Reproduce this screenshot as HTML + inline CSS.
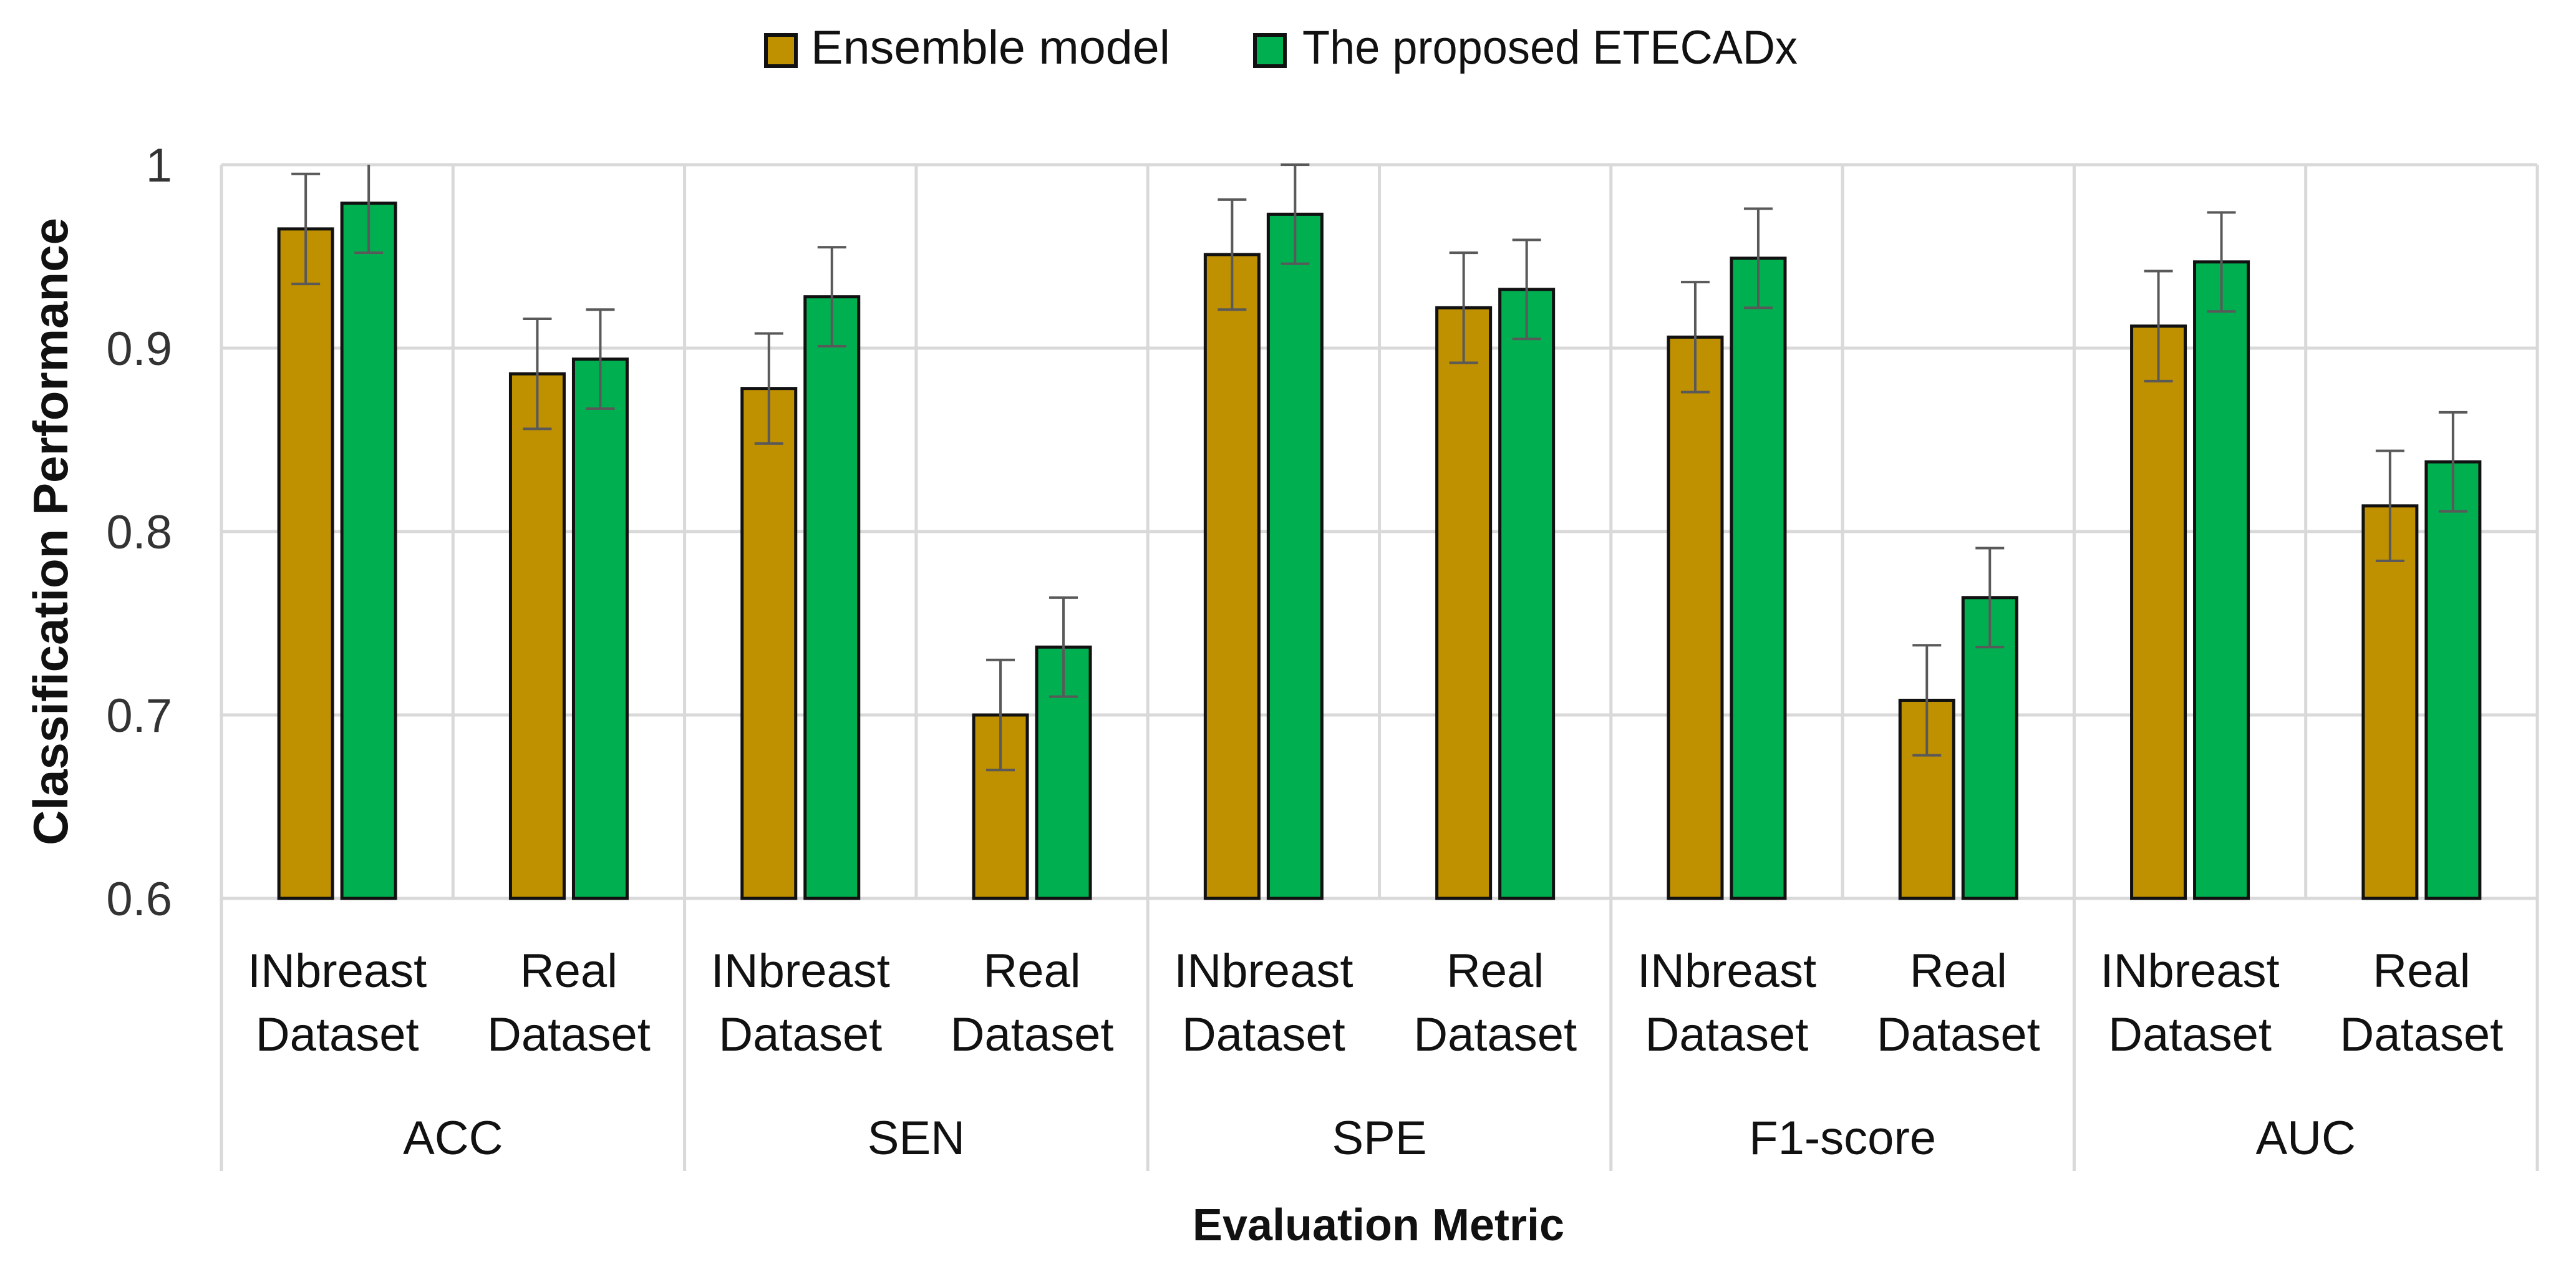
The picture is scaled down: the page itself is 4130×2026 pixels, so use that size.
<!DOCTYPE html>
<html><head><meta charset="utf-8">
<style>
html,body{margin:0;padding:0;background:#fff;}
svg{display:block;font-family:"Liberation Sans",sans-serif;}
</style></head>
<body>
<svg id="chart" width="4130" height="2026" viewBox="0 0 4130 2026" xmlns="http://www.w3.org/2000/svg">
  <g>
    <g>
      <rect x="1228" y="56" width="48" height="50" fill="#BF9000" stroke="#111" stroke-width="6"/>
      <text x="1300" y="102" font-size="76" fill="#111" textLength="576" lengthAdjust="spacingAndGlyphs">Ensemble model</text>
    </g>
    <g>
      <rect x="2012" y="56" width="48" height="50" fill="#00B050" stroke="#111" stroke-width="6"/>
      <text x="2088" y="102" font-size="76" fill="#111" textLength="794" lengthAdjust="spacingAndGlyphs">The proposed ETECADx</text>
    </g>
  </g>
  <g id="grid"></g>
  <g id="yticks"></g>
  <g id="bars"></g>
  <g id="xaxis"></g>
  <text transform="translate(108,852) rotate(-90)" text-anchor="middle" font-size="78" font-weight="bold" fill="#111">Classification Performance</text>
  <text x="2210" y="1988" text-anchor="middle" font-size="72" font-weight="bold" fill="#111">Evaluation Metric</text>
</svg>
<script>
const metrics = ["ACC","SEN","SPE","F1-score","AUC"];
const subLabels = ["INbreast","Real"];
const ensembleVals = [0.965,0.886,0.878,0.700,0.951,0.922,0.906,0.708,0.912,0.814];
const etecadxVals  = [0.979,0.894,0.928,0.737,0.973,0.932,0.949,0.764,0.947,0.838];
const ensembleErr  = [0.030,0.030,0.030,0.030,0.030,0.030,0.030,0.030,0.030,0.030];
const etecadxErr   = [0.027,0.027,0.027,0.027,0.027,0.027,0.027,0.027,0.027,0.027];
const yTicks = [0.6,0.7,0.8,0.9,1.0];
const yTickLabels = ["0.6","0.7","0.8","0.9","1"];

const NS="http://www.w3.org/2000/svg";
const L=355,R=4068,T=264,B=1440,yMin=0.6,yMax=1.0;
const n=ensembleVals.length, sw=(R-L)/n;
function y(v){return B-(v-yMin)/(yMax-yMin)*(B-T);}
function mk(tag,attrs,parent){const e=document.createElementNS(NS,tag);for(const k in attrs)e.setAttribute(k,attrs[k]);parent.appendChild(e);return e;}
const grid=document.getElementById('grid'),yt=document.getElementById('yticks'),bars=document.getElementById('bars'),xa=document.getElementById('xaxis');

yTicks.forEach((t,i)=>{
  const ln=mk('line',{x1:L,x2:R,y1:y(t),y2:y(t),stroke:'#d9d9d9','stroke-width':5},grid);
  
  
  const tx=mk('text',{x:276,y:y(t)+27,'text-anchor':'end','font-size':76,fill:'#333'},yt);
  tx.textContent=yTickLabels[i];
  
  
});
for(let i=0;i<=n;i++){
  const x=L+i*sw, cat=(i%2===0);
  const ln=mk('line',{x1:x,x2:x,y1:T,y2:cat?1877:B,stroke:'#d9d9d9','stroke-width':5},grid);
  
  
}
const bw=86,gap=15;
for(let i=0;i<n;i++){
  const c=L+(i+0.5)*sw;
  [[ensembleVals,ensembleErr,'#BF9000','ensemble',c-gap/2-bw],[etecadxVals,etecadxErr,'#00B050','etecadx',c+gap/2]].forEach(([vals,errs,col,nm,x0])=>{
    const v=vals[i];
    const r=mk('rect',{x:x0,y:y(v),width:bw,height:B-y(v),fill:col,stroke:'#111','stroke-width':5},bars);
    
    
    const cx=x0+bw/2, hi=y(Math.min(v+errs[i],1.0)), lo=y(v-errs[i]);
    const g=mk('g',{stroke:'#595959','stroke-width':4},bars);
    
    
    mk('line',{x1:cx,x2:cx,y1:hi,y2:lo},g);
    if(v+errs[i]<=1.0) mk('line',{x1:cx-23,x2:cx+23,y1:hi,y2:hi},g);
    mk('line',{x1:cx-23,x2:cx+23,y1:lo,y2:lo},g);
  });
  const t1=mk('text',{x:c,y:1582,'text-anchor':'middle','font-size':76,fill:'#111'},xa);
  t1.textContent=subLabels[i%2];
  
  
  const t2=mk('text',{x:c,y:1684,'text-anchor':'middle','font-size':76,fill:'#111'},xa);
  t2.textContent='Dataset';
  
  
}
metrics.forEach((m,k)=>{
  const t=mk('text',{x:L+(2*k+1)*sw,y:1850,'text-anchor':'middle','font-size':76,fill:'#111'},xa);
  t.textContent=m;
  
  
});
</script>
</body></html>
